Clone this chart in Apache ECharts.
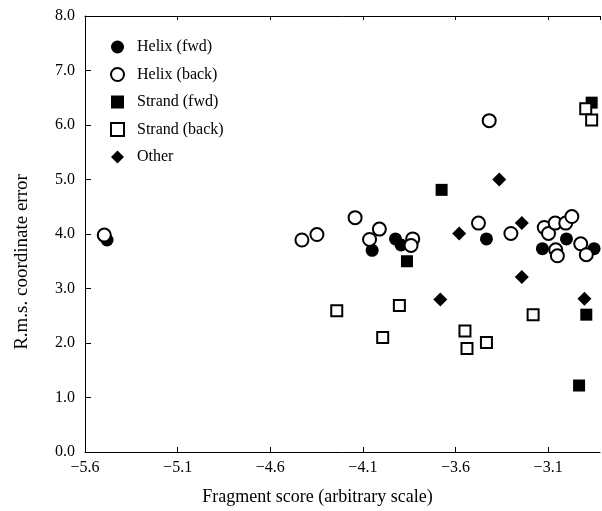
<!DOCTYPE html>
<html>
<head>
<meta charset="utf-8">
<script src="https://cdn.jsdelivr.net/npm/echarts@6/dist/echarts.min.js"></script>
<style>
  html, body { margin: 0; padding: 0; background: #fff; }
  #chart { width: 602px; height: 511px; }
</style>
</head>
<body>
<div id="chart"></div>
<script>
// values: [fragment score, r.m.s. error]
const helixFwd = [
  [-5.481, 3.89], [-4.050, 3.70], [-3.924, 3.91], [-3.894, 3.80],
  [-3.433, 3.91], [-3.131, 3.73], [-3.001, 3.91], [-2.852, 3.73]
];
const helixBack = [
  [-5.496, 3.98], [-4.429, 3.89], [-4.348, 3.99], [-4.142, 4.30],
  [-4.064, 3.90], [-4.011, 4.09], [-3.831, 3.91], [-3.840, 3.79],
  [-3.418, 6.08], [-3.476, 4.20], [-3.301, 4.01], [-3.121, 4.12],
  [-3.098, 4.01], [-3.062, 4.20], [-3.005, 4.20], [-2.972, 4.32],
  [-3.059, 3.71], [-3.050, 3.60], [-2.924, 3.82], [-2.894, 3.62]
];
const strandFwd = [
  [-3.675, 4.81], [-3.862, 3.50], [-2.865, 6.41], [-2.894, 2.52], [-2.933, 1.22]
];
const strandBack = [
  [-2.897, 6.30], [-2.865, 6.09], [-4.241, 2.59], [-3.903, 2.69],
  [-3.993, 2.10], [-3.549, 2.22], [-3.538, 1.90], [-3.433, 2.01], [-3.181, 2.52]
];
const other = [
  [-3.364, 5.00], [-3.580, 4.01], [-3.242, 4.20], [-3.242, 3.21],
  [-3.682, 2.80], [-2.904, 2.81]
];
const seriesNames = ["Helix (fwd)", "Helix (back)", "Strand (fwd)", "Strand (back)", "Other"];
const xTicks = [-5.6, -5.1, -4.6, -4.1, -3.6, -3.1];

const serif = "Liberation Serif";
const chart = echarts.init(document.getElementById("chart"));

function scatter(name, data, symbol, size, filled) {
  return {
    name: name,
    type: "scatter",
    data: data,
    symbol: symbol,
    symbolSize: size,
    itemStyle: filled
      ? { color: "#000", opacity: 1 }
      : { color: "#fff", borderColor: "#000", borderWidth: 2, opacity: 1 }
  };
}

const xLabel = (v) => {
  const hit = xTicks.find((t) => Math.abs(t - v) < 1e-6);
  return hit === undefined ? "" : "\u2212" + Math.abs(hit).toFixed(1);
};

chart.setOption({
  animation: false,
  backgroundColor: "#fff",
  grid: { left: 85, right: 2, top: 16, bottom: 57 },
  legend: {
    orient: "vertical",
    left: 105,
    top: 34,
    itemWidth: 13,
    itemHeight: 13,
    itemGap: 11.5,
    data: seriesNames,
    textStyle: { fontFamily: serif, fontSize: 16, color: "#000", padding: [0, 0, 0, 8] }
  },
  xAxis: [
    {
      type: "value",
      min: -5.6,
      max: -2.82,
      interval: 0.5,
      splitLine: { show: false },
      axisLine: { onZero: false, lineStyle: { color: "#000", width: 1 } },
      axisTick: { inside: true, length: 5, lineStyle: { color: "#000" } },
      axisLabel: {
        formatter: xLabel,
        showMaxLabel: false,
        color: "#000",
        fontFamily: serif,
        fontSize: 16,
        margin: 8
      },
      name: "Fragment score (arbitrary scale)",
      nameLocation: "middle",
      nameGap: 36,
      nameTextStyle: { fontFamily: serif, fontSize: 18, color: "#000", padding: [0, 50, 0, 0] }
    },
    {
      type: "value",
      position: "top",
      min: -5.6,
      max: -2.82,
      interval: 0.5,
      splitLine: { show: false },
      axisLine: { onZero: false, lineStyle: { color: "#000", width: 1 } },
      axisTick: { inside: true, length: 4, lineStyle: { color: "#000" } },
      axisLabel: { show: false }
    }
  ],
  yAxis: {
    type: "value",
    min: 0,
    max: 8,
    interval: 1,
    splitLine: { show: false },
    axisLine: { show: true, lineStyle: { color: "#000", width: 1 } },
    axisTick: { show: true, inside: true, length: 6, lineStyle: { color: "#000" } },
    axisLabel: {
      formatter: (v) => v.toFixed(1),
      color: "#000",
      fontFamily: serif,
      fontSize: 16,
      margin: 10
    },
    name: "R.m.s. coordinate error",
    nameLocation: "middle",
    nameGap: 53,
    nameTextStyle: { fontFamily: serif, fontSize: 19, color: "#000", padding: [0, 56, 0, 0] }
  },
  series: [
    scatter(seriesNames[0], helixFwd, "circle", 13, true),
    scatter(seriesNames[1], helixBack, "circle", 13, false),
    scatter(seriesNames[2], strandFwd, "rect", 12, true),
    scatter(seriesNames[3], strandBack, "rect", 11, false),
    scatter(seriesNames[4], other, "diamond", 14, true)
  ]
});
</script>
</body>
</html>
